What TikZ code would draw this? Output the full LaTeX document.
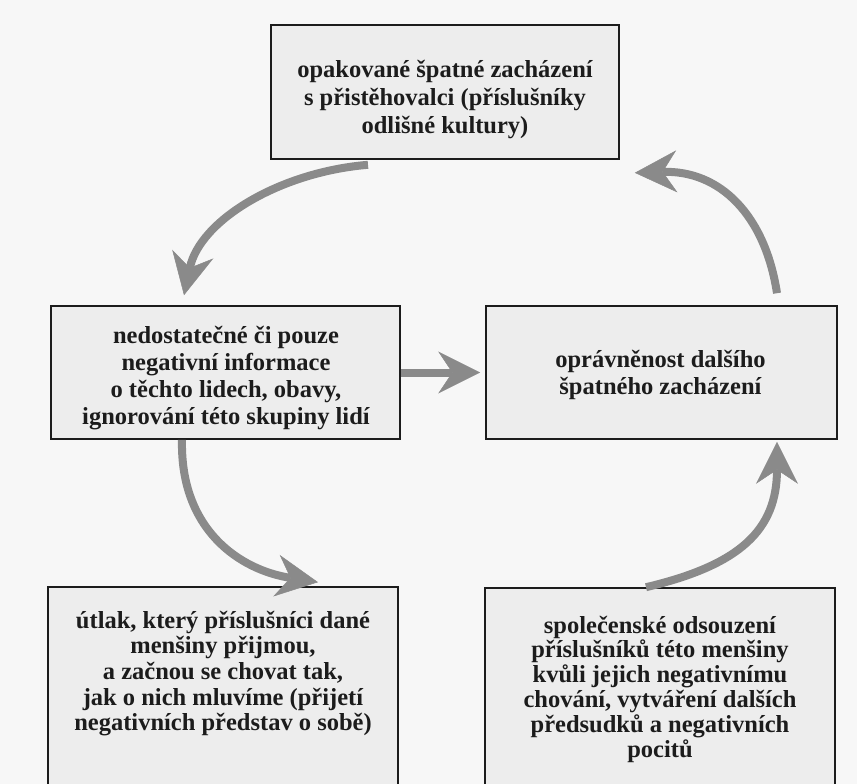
\documentclass[tikz,border=0pt]{standalone}
\usepackage{fontspec}
\setmainfont{Liberation Serif}
\usetikzlibrary{arrows.meta}
\definecolor{bgc}{HTML}{F7F7F7}
\definecolor{boxc}{HTML}{EDEDED}
\definecolor{arrc}{HTML}{8A8A8A}
\definecolor{txtc}{HTML}{1C1C1C}
\begin{document}
\begin{tikzpicture}[x=1pt,y=-1pt,
  box/.style={draw=txtc, line width=1.6pt, fill=boxc, rectangle, inner sep=0pt},
  txt/.style={align=center, text=txtc, inner sep=0pt, font=\bfseries\fontsize{24.5}{#1}\selectfont},
  arr/.style={draw=arrc, line width=8pt, -{Stealth[length=42pt,width=42pt,inset=14pt,line width=0.5pt]}}]
\useasboundingbox (0,0) rectangle (857,784);
\clip (0,0) rectangle (857,784);
\fill[bgc] (0,0) rectangle (857,784);

% boxes
\node[box, minimum width=348pt, minimum height=134pt] (top) at (445,92) {};
\node[box, minimum width=349pt, minimum height=133pt] (midL) at (225.5,372.5) {};
\node[box, minimum width=351pt, minimum height=133pt] (midR) at (661.5,372.5) {};
\node[box, minimum width=350pt, minimum height=213pt] (botL) at (223,693.5) {};
\node[box, minimum width=350pt, minimum height=212pt] (botR) at (660,694) {};

% texts
\node[txt=28] (ttop) at (445,100) {opakované špatné zacházení\\s přistěhovalci (příslušníky\\odlišné kultury)};
\node[txt=27] (tmidL) at (226,378) {nedostatečné či pouze\\negativní informace\\o těchto lidech, obavy,\\ignorování této skupiny lidí};
\node[txt=26.5] (tmidR) at (660.5,375) {oprávněnost dalšího\\špatného zacházení};
\node[txt=25.7] (tbotL) at (223,673.6) {útlak, který příslušníci dané\\menšiny přijmou,\\a začnou se chovat tak,\\jak o nich mluvíme (přijetí\\negativních představ o sobě)};
\node[txt=24.8] (tbotR) at (660,689) {společenské odsouzení\\příslušníků této menšiny\\kvůli jejich negativnímu\\chování, vytváření dalších\\předsudků a negativních\\pocitů};

% arrows
\draw[arr] ([shift={(-77pt,-5pt)}]top.south) .. controls (280,172) and (200,220) .. ([shift={(-41.5pt,10pt)}]midL.north);
\draw[arr] (midL.east) -- ([xshift=-5pt]midR.west);
\draw[arr] ([xshift=-43.5pt]midL.south) .. controls (180,530) and (240,570) .. ([shift={(95pt,4pt)}]botL.north);
\draw[arr] ([xshift=-14pt]botR.north) .. controls (740,565) and (777,530) .. ([shift={(115.5pt,-2pt)}]midR.south);
\draw[arr] ([shift={(115.5pt,12pt)}]midR.north) .. controls (765,215) and (720,170) .. ([shift={(15pt,-13pt)}]top.south east);
\end{tikzpicture}
\end{document}
